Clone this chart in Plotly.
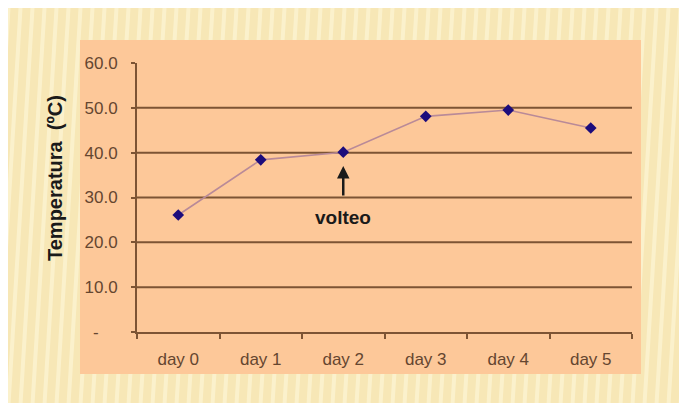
import plotly.graph_objects as go

# ---- data ----
days = ["day 0", "day 1", "day 2", "day 3", "day 4", "day 5"]
temperature = [26.1, 38.4, 40.1, 48.1, 49.5, 45.5]
y_tick_vals = [0, 10, 20, 30, 40, 50, 60]
y_tick_text = ["-\u00a0\u00a0\u00a0\u00a0", "10.0", "20.0", "30.0", "40.0", "50.0", "60.0"]
grid_vals = [10, 20, 30, 40, 50]
annot_day = "day 2"
annot_text = "volteo"

W, H = 687, 403
OFF = 8  # page body margin
# plot area in page pixels: x 137..632, y 63..332
L, T = 137 - OFF, 63 - OFF
R, B = W - (632 - OFF), H - (332 - OFF)
PW, PH = W - L - R, H - T - B

def px(x):
    return (x - OFF - L) / PW

def py(y):
    return (H - B - (y - OFF)) / PH

BROWN = "#7d5434"
LABEL = "#654630"

fig = go.Figure()
fig.add_trace(go.Scatter(
    x=days, y=temperature, mode="lines+markers",
    line=dict(color="#b98a98", width=1.6),
    marker=dict(symbol="diamond", size=9, color="#1c0c7c"),
    showlegend=False, hoverinfo="x+y",
))

shapes = []
# subtle stripes in the background
for i in range(-40, 720, 12):
    shapes.append(dict(type="line", xref="paper", yref="paper", layer="below",
                       x0=px(i), x1=px(i + 25), y0=py(H + 10), y1=py(0),
                       line=dict(color="#fbf1cc", width=4)))
# peach chart area
shapes.append(dict(type="rect", xref="paper", yref="paper", layer="below",
                   x0=px(80), x1=px(641), y0=py(40), y1=py(374),
                   fillcolor="#fdc899", line=dict(width=0)))
# horizontal gridlines
for g in grid_vals:
    shapes.append(dict(type="line", xref="paper", yref="y", layer="below",
                       x0=0, x1=1, y0=g, y1=g,
                       line=dict(color=BROWN, width=2)))

fig.update_layout(
    width=W, height=H,
    margin=dict(l=L, r=R, t=T, b=B),
    paper_bgcolor="#f7e7b6",
    plot_bgcolor="rgba(0,0,0,0)",
    shapes=shapes,
    font=dict(family="Liberation Sans, Arial, sans-serif"),
    xaxis=dict(
        type="category", range=[-0.5, 5.5], tickson="boundaries",
        ticks="outside", ticklen=5, tickwidth=1.5, tickcolor=BROWN,
        showline=True, linecolor=BROWN, linewidth=2,
        showgrid=False, zeroline=False,
        tickfont=dict(size=17, color=LABEL),
        ticklabelstandoff=11,
    ),
    yaxis=dict(
        range=[0, 60], tickvals=y_tick_vals, ticktext=y_tick_text,
        ticks="outside", ticklen=4, tickwidth=1.5, tickcolor=BROWN,
        showline=True, linecolor=BROWN, linewidth=2,
        showgrid=False, zeroline=False,
        tickfont=dict(size=17, color=LABEL),
        ticklabelstandoff=10,
    ),
    annotations=[
        dict(text="<b>Temperatura  (ºC)</b>", textangle=-90,
             xref="paper", yref="paper", x=px(55), y=py(178),
             xanchor="center", yanchor="middle", showarrow=False,
             font=dict(size=20, color="#1a1a1a")),
        dict(text="", x=annot_day, y=37.0, xref="x", yref="y",
             showarrow=True, ax=0, ay=31, arrowhead=2, arrowsize=1,
             arrowwidth=2.5, arrowcolor="#1a1a1a"),
        dict(text="<b>" + annot_text + "</b>", x=annot_day, y=25.5,
             xref="x", yref="y", showarrow=False,
             xanchor="center", yanchor="middle",
             font=dict(size=19, color="#1a1a1a")),
    ],
)

fig.write_html("out.html")
